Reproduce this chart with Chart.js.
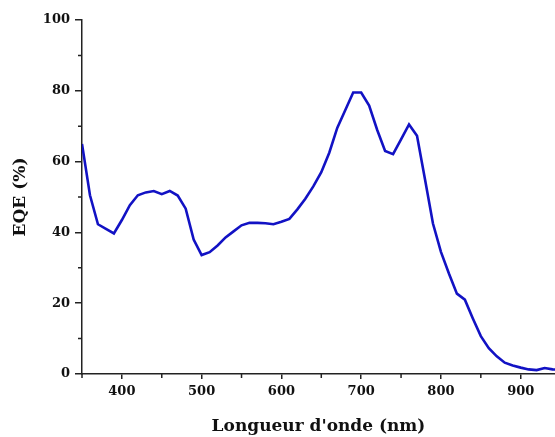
<!DOCTYPE html>
<html>
<head>
<meta charset="utf-8">
<script src="https://cdn.jsdelivr.net/npm/chart.js@4.4.1/dist/chart.umd.min.js"></script>
<style>
  html, body { margin: 0; padding: 0; background: #fff; overflow: hidden; }
  #wrap { width: 555px; height: 437px; }
</style>
</head>
<body>
<div id="wrap"><canvas id="c" width="555" height="437"></canvas></div>
<script>
const wavelengths = [350,360,370,380,390,400,410,420,430,440,450,460,470,480,490,500,510,520,530,540,550,560,570,580,590,600,610,620,630,640,650,660,670,680,690,700,710,720,730,740,750,760,770,780,790,800,810,820,830,840,850,860,870,880,890,900,910,920,930,940,950];
const eqe = [65,50.5,42.3,41,39.7,43.5,47.7,50.5,51.3,51.7,50.8,51.7,50.4,46.7,38,33.6,34.4,36.3,38.6,40.3,42,42.7,42.7,42.6,42.3,43,43.8,46.5,49.5,53,57,62.5,69.5,74.5,79.5,79.5,75.8,69,63,62.1,66.3,70.5,67.3,55,42.5,34.5,28.4,22.7,21,15.7,10.7,7.3,5,3.2,2.4,1.8,1.3,1.1,1.7,1.3,1.2];
const xMajorTicks = [400,500,600,700,800,900];
const xMinorTicks = [350,450,550,650,750,850];
const yMajorTicks = [0,20,40,60,80,100];
const yMinorTicks = [10,30,50,70,90];
const xTitle = "Longueur d'onde (nm)";
const yTitle = "EQE (%)";

const axisColor = '#222';
const labelFont = { family: 'DejaVu Serif', weight: 'bold', size: 13 };
const titleFont = { family: 'DejaVu Serif', weight: 'bold', size: 17 };

const minorTicks = {
  id: 'minorTicks',
  afterDraw(chart) {
    const ctx = chart.ctx;
    const xs = chart.scales.x, ys = chart.scales.y;
    ctx.save();
    ctx.strokeStyle = axisColor;
    ctx.lineWidth = 1.5;
    ctx.beginPath();
    xMinorTicks.forEach(v => {
      const px = xs.getPixelForValue(v);
      ctx.moveTo(px, ys.bottom);
      ctx.lineTo(px, ys.bottom + 4);
    });
    yMinorTicks.forEach(v => {
      const py = ys.getPixelForValue(v);
      ctx.moveTo(xs.left, py);
      ctx.lineTo(xs.left - 4, py);
    });
    ctx.stroke();
    ctx.restore();
  }
};

new Chart(document.getElementById('c'), {
  type: 'line',
  data: {
    datasets: [{
      data: wavelengths.map((w, i) => ({ x: w, y: eqe[i] })),
      borderColor: '#1212c4',
      borderWidth: 2.6,
      pointRadius: 0,
      tension: 0,
      fill: false
    }]
  },
  options: {
    responsive: false,
    animation: false,
    layout: { padding: { top: 20, right: 0, left: 0, bottom: 0 } },
    plugins: { legend: { display: false }, tooltip: { enabled: false } },
    scales: {
      x: {
        type: 'linear',
        min: 350,
        max: 943,
        afterBuildTicks: s => { s.ticks = xMajorTicks.map(v => ({ value: v })); },
        afterFit: s => { s.height = 63; },
        border: { display: true, color: axisColor, width: 1.5 },
        grid: { drawOnChartArea: false, drawTicks: true, tickLength: 5, color: axisColor, lineWidth: 1.5 },
        ticks: { color: '#111', font: labelFont, padding: 5, maxRotation: 0 },
        title: { display: true, text: xTitle, color: '#111', font: titleFont, padding: { top: 0, bottom: 0 } }
      },
      y: {
        type: 'linear',
        min: 0,
        max: 100,
        afterBuildTicks: s => { s.ticks = yMajorTicks.map(v => ({ value: v })); },
        afterFit: s => { s.width = 82; },
        border: { display: true, color: axisColor, width: 1.5 },
        grid: { drawOnChartArea: false, drawTicks: true, tickLength: 7, color: axisColor, lineWidth: 1.5 },
        ticks: { color: '#111', font: labelFont, padding: 5 },
        title: { display: true, text: yTitle, color: '#111', font: titleFont, padding: { top: 10, bottom: 0 } }
      }
    }
  },
  plugins: [minorTicks]
});
</script>
</body>
</html>
